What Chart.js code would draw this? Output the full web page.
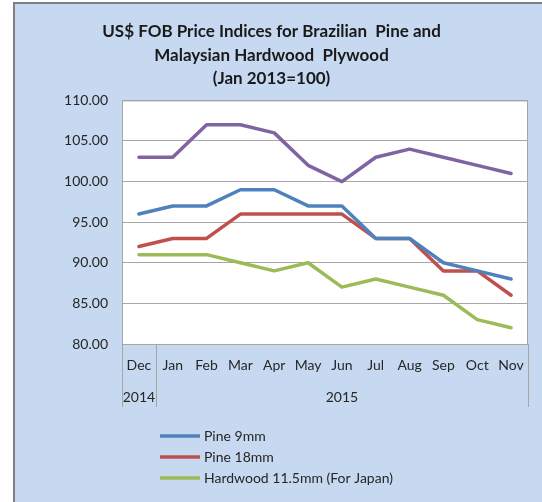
<!DOCTYPE html>
<html>
<head>
<meta charset="utf-8">
<script src="https://cdn.jsdelivr.net/npm/chart.js@4.4.1/dist/chart.umd.min.js"></script>
<style>
  html, body { margin: 0; padding: 0; background: #fff; }
  #frame {
    position: absolute; left: 13px; top: 2px;
    width: 527px; height: 498px;
    border-left: 2px solid #7f7f7f; border-top: 2px solid #7f7f7f;
    background: #c6d9f1;
  }
  #chart { display: block; }
</style>
</head>
<body>
<div id="frame"><canvas id="chart" width="527" height="498"></canvas></div>
<script>
const months = ['Dec', 'Jan', 'Feb', 'Mar', 'Apr', 'May', 'Jun', 'Jul', 'Aug', 'Sep', 'Oct', 'Nov']
const years = ['2014', '2015']
const yearSpans = [1, 11]

const pine9 = [96, 97, 97, 99, 99, 97, 97, 93, 93, 90, 89, 88]
const pine18 = [92, 93, 93, 96, 96, 96, 96, 93, 93, 89, 89, 86]
const hardwood = [91, 91, 91, 90, 89, 90, 87, 88, 87, 86, 83, 82]
const series4 = [103, 103, 107, 107, 106, 102, 100, 103, 104, 103, 102, 101]

const titleLines = ['US$ FOB Price Indices for Brazilian  Pine and', 'Malaysian Hardwood  Plywood', '(Jan 2013=100)']
const legendNames = ['Pine 9mm', 'Pine 18mm', 'Hardwood 11.5mm (For Japan)']

const FONT = 'Lato, "Open Sans", sans-serif'
const TEXT = '#262626'
const GRID = '#a6a6a6'

// white plot area, border, split category labels, custom legend
const extras = {
  id: 'extras',
  beforeDraw(chart) {
    const { ctx, chartArea: a } = chart
    ctx.save()
    ctx.fillStyle = '#fff'
    ctx.fillRect(a.left, a.top, a.right - a.left, a.bottom - a.top)
    ctx.restore()
  },
  afterDraw(chart) {
    const { ctx, chartArea: a } = chart
    const x = chart.scales.x
    ctx.save()
    ctx.strokeStyle = GRID
    ctx.lineWidth = 1
    ctx.strokeRect(a.left + 0.5, a.top + 0.5, a.right - a.left - 1, a.bottom - a.top)

    // dividers under the axis between year groups
    const axisBottom = a.bottom + 63
    const edges = [a.left]
    let idx = 0
    yearSpans.forEach((span) => {
      idx += span
      edges.push(idx >= months.length ? a.right : (x.getPixelForValue(idx - 1) + x.getPixelForValue(idx)) / 2)
    })
    edges.forEach((ex) => {
      const px = Math.round(ex) + 0.5
      ctx.beginPath()
      ctx.moveTo(px, a.bottom)
      ctx.lineTo(px, axisBottom)
      ctx.stroke()
    })

    ctx.fillStyle = TEXT
    ctx.font = '14px ' + FONT
    ctx.textAlign = 'center'
    ctx.textBaseline = 'middle'
    let start = 0
    years.forEach((y, i) => {
      const end = start + yearSpans[i] - 1
      const cx = (x.getPixelForValue(start) + x.getPixelForValue(end)) / 2
      ctx.fillText(y, cx, a.bottom + 53)
      start = end + 1
    })

    // legend
    ctx.textAlign = 'left'
    chart.data.datasets.forEach((ds, i) => {
      if (!ds.label) return
      const ly = 432 + i * 21
      ctx.strokeStyle = ds.borderColor
      ctx.lineWidth = 3.5
      ctx.beginPath()
      ctx.moveTo(145, ly)
      ctx.lineTo(185, ly)
      ctx.stroke()
      ctx.fillText(ds.label, 189, ly)
    })
    ctx.restore()
  }
}

const line = (label, data, color) => ({
  label,
  data,
  borderColor: color,
  backgroundColor: color,
  borderWidth: 3.5,
  pointRadius: 0,
  tension: 0,
  borderCapStyle: 'round',
  borderJoinStyle: 'round'
})

new Chart(document.getElementById('chart'), {
  type: 'line',
  data: {
    labels: months,
    datasets: [
      line(legendNames[0], pine9, '#4f81bd'),
      line(legendNames[1], pine18, '#c0504d'),
      line(legendNames[2], hardwood, '#9bbb59'),
      line('', series4, '#8064a2')
    ]
  },
  options: {
    responsive: false,
    animation: false,
    layout: { padding: { top: 10, right: 14, bottom: 95, left: 0 } },
    plugins: {
      legend: { display: false },
      tooltip: { enabled: false },
      title: {
        display: true,
        text: titleLines,
        color: '#1a1a1a',
        font: { family: FONT, size: 17, weight: 'bold', lineHeight: 1.38 },
        padding: { top: 6, bottom: 10 }
      }
    },
    scales: {
      x: {
        offset: true,
        grid: { display: false, drawOnChartArea: false, drawTicks: false },
        border: { display: true, color: GRID },
        ticks: { color: TEXT, font: { family: FONT, size: 14 }, padding: 13, maxRotation: 0, autoSkip: false },
        afterFit(s) { s.height = 63 }
      },
      y: {
        min: 80,
        max: 110,
        grid: { color: GRID, drawTicks: false },
        border: { display: true, color: GRID },
        ticks: {
          stepSize: 5,
          color: TEXT,
          padding: 14,
          font: { family: FONT, size: 14 },
          callback: (v) => v.toFixed(2)
        },
        afterFit(s) { s.width = 107 }
      }
    }
  },
  plugins: [extras]
})
</script>
</body>
</html>
